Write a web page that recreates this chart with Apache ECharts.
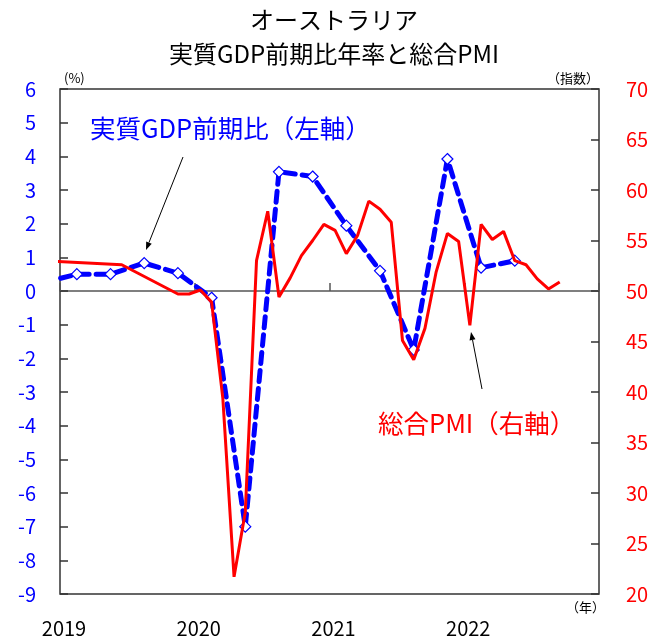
<!DOCTYPE html>
<html>
<head>
<meta charset="utf-8">
<script src="https://cdn.jsdelivr.net/npm/echarts@6/dist/echarts.min.js"></script>
<style>
html,body{margin:0;padding:0;background:#fff;}
#chart{width:668px;height:639px;}
</style>
</head>
<body>
<div id="chart"></div>
<script>
// ---- data ----
const gdpQuarters = ['2018Q4','2019Q1','2019Q2','2019Q3','2019Q4','2020Q1','2020Q2','2020Q3','2020Q4','2021Q1','2021Q2','2021Q3','2021Q4','2022Q1','2022Q2'];
const gdpValues   = [0.25, 0.5, 0.5, 0.83, 0.53, -0.2, -7.0, 3.54, 3.4, 1.94, 0.6, -1.75, 3.92, 0.69, 0.9];

const pmiMonths = ['2018-12','2019-06','2019-11','2019-12',
  '2020-01','2020-02','2020-03','2020-04','2020-05','2020-06','2020-07','2020-08','2020-09','2020-10','2020-11','2020-12',
  '2021-01','2021-02','2021-03','2021-04','2021-05','2021-06','2021-07','2021-08','2021-09','2021-10','2021-11','2021-12',
  '2022-01','2022-02','2022-03','2022-04','2022-05','2022-06','2022-07','2022-08','2022-09'];
const pmiValues = [52.95, 52.6, 49.7, 49.7,
  50.1, 48.9, 39.4, 21.7, 28.1, 53.0, 57.9, 49.4, 51.3, 53.5, 55.0, 56.6,
  56.0, 53.7, 55.5, 58.9, 58.1, 56.8, 45.1, 43.2, 46.3, 51.9, 55.7, 54.9,
  46.6, 56.6, 55.1, 55.9, 53.0, 52.6, 51.2, 50.2, 50.9];

const xYearLabels = ['2019','2020','2021','2022'];

// ---- helpers ----
function quarterToX(q){ const y=+q.slice(0,4), n=+q.slice(5); return y + (n-0.5)/4; }
function monthToX(m){ const y=+m.slice(0,4), n=+m.slice(5); return y + (n-0.5)/12; }

const gdpData = gdpQuarters.map((q,i)=>[quarterToX(q), gdpValues[i]]);
const pmiData = pmiMonths.map((m,i)=>[monthToX(m), pmiValues[i]]);

function arrow(x1,y1,x2,y2){
  const dx=x2-x1, dy=y2-y1, L=Math.sqrt(dx*dx+dy*dy), ux=dx/L, uy=dy/L;
  const hl=8, hw=3;
  const bx=x2-ux*hl, by=y2-uy*hl;
  return [
    {type:'line', shape:{x1:x1,y1:y1,x2:bx,y2:by}, style:{stroke:'#000',lineWidth:1}, z:100},
    {type:'polygon', shape:{points:[[x2,y2],[bx-uy*hw,by+ux*hw],[bx+uy*hw,by-ux*hw]]}, style:{fill:'#000'}, z:100}
  ];
}

const FONT = '"Noto Sans CJK JP", "Noto Sans", sans-serif';
const chart = echarts.init(document.getElementById('chart'));
chart.setOption({
  animation:false,
  textStyle:{fontFamily:FONT},
  title:{
    text:'オーストラリア\n実質GDP前期比年率と総合PMI',
    left:'center', top:-2,
    textStyle:{fontSize:24, fontWeight:'normal', color:'#000', lineHeight:34, fontFamily:FONT}
  },
  grid:{left:60, right:69, top:89, bottom:45, show:true, borderColor:'#333', borderWidth:1.5, backgroundColor:'transparent'},
  xAxis:[
    {type:'value', min:2019, max:2023, interval:1,
     axisLine:{show:true, onZero:true, lineStyle:{color:'#555', width:1.5}},
     axisTick:{show:true, inside:true, length:8, lineStyle:{color:'#555', width:1.5}},
     axisLabel:{show:false}, splitLine:{show:false}},
    {type:'value', min:2019, max:2023, interval:1, position:'bottom',
     axisLine:{show:false}, axisTick:{show:false}, splitLine:{show:false},
     axisLabel:{show:true, margin:24, fontSize:20, color:'#000', fontFamily:FONT, padding:[0,0,0,8],
       formatter:(v)=>{ const i=Math.round(v-2019); return xYearLabels[i]||''; }}}
  ],
  yAxis:[
    {type:'value', min:-9, max:6, interval:1, position:'left',
     name:'(%)', nameLocation:'end', nameGap:4,
     nameTextStyle:{fontSize:13, color:'#000', align:'left', padding:[0,0,0,4], fontFamily:FONT},
     axisLine:{show:false}, splitLine:{show:false},
     axisTick:{show:true, inside:true, length:8, lineStyle:{color:'#333', width:1.5}},
     axisLabel:{margin:24, fontSize:20, color:'#0000FF', fontFamily:FONT}},
    {type:'value', min:20, max:70, interval:5, position:'right',
     name:'（指数）', nameLocation:'end', nameGap:4,
     nameTextStyle:{fontSize:13, color:'#000', align:'right', padding:[0,0,0,0], fontFamily:FONT},
     axisLine:{show:false}, splitLine:{show:false},
     axisTick:{show:true, inside:true, length:8, lineStyle:{color:'#333', width:1.5}},
     axisLabel:{margin:27, fontSize:20, color:'#FF0000', fontFamily:FONT}}
  ],
  series:[
    {name:'実質GDP前期比', type:'line', xAxisIndex:0, yAxisIndex:0, data:gdpData,
     symbol:'diamond', symbolSize:11, showAllSymbol:true, clip:true,
     itemStyle:{color:'#fff', borderColor:'#0000FF', borderWidth:1.2},
     lineStyle:{color:'#0000FF', width:5, type:[11,7], cap:'round'}, z:2},
    {name:'総合PMI', type:'line', xAxisIndex:0, yAxisIndex:1, data:pmiData,
     showSymbol:false, symbol:'none', clip:true,
     lineStyle:{color:'#FF0000', width:3}, z:3}
  ],
  graphic:[
    {type:'text', left:90, top:116, style:{text:'実質GDP前期比（左軸）', fontSize:25.5, fill:'#0000FF', fontFamily:FONT}, z:100},
    {type:'text', left:378, top:411, style:{text:'総合PMI（右軸）', fontSize:25.5, fill:'#FF0000', fontFamily:FONT}, z:100},
    {type:'text', left:566, top:601, style:{text:'（年）', fontSize:13, fill:'#000', fontFamily:FONT}, z:100},
    ...arrow(183,157,146,250),
    ...arrow(482,389,471,332)
  ]
});
</script>
</body>
</html>
